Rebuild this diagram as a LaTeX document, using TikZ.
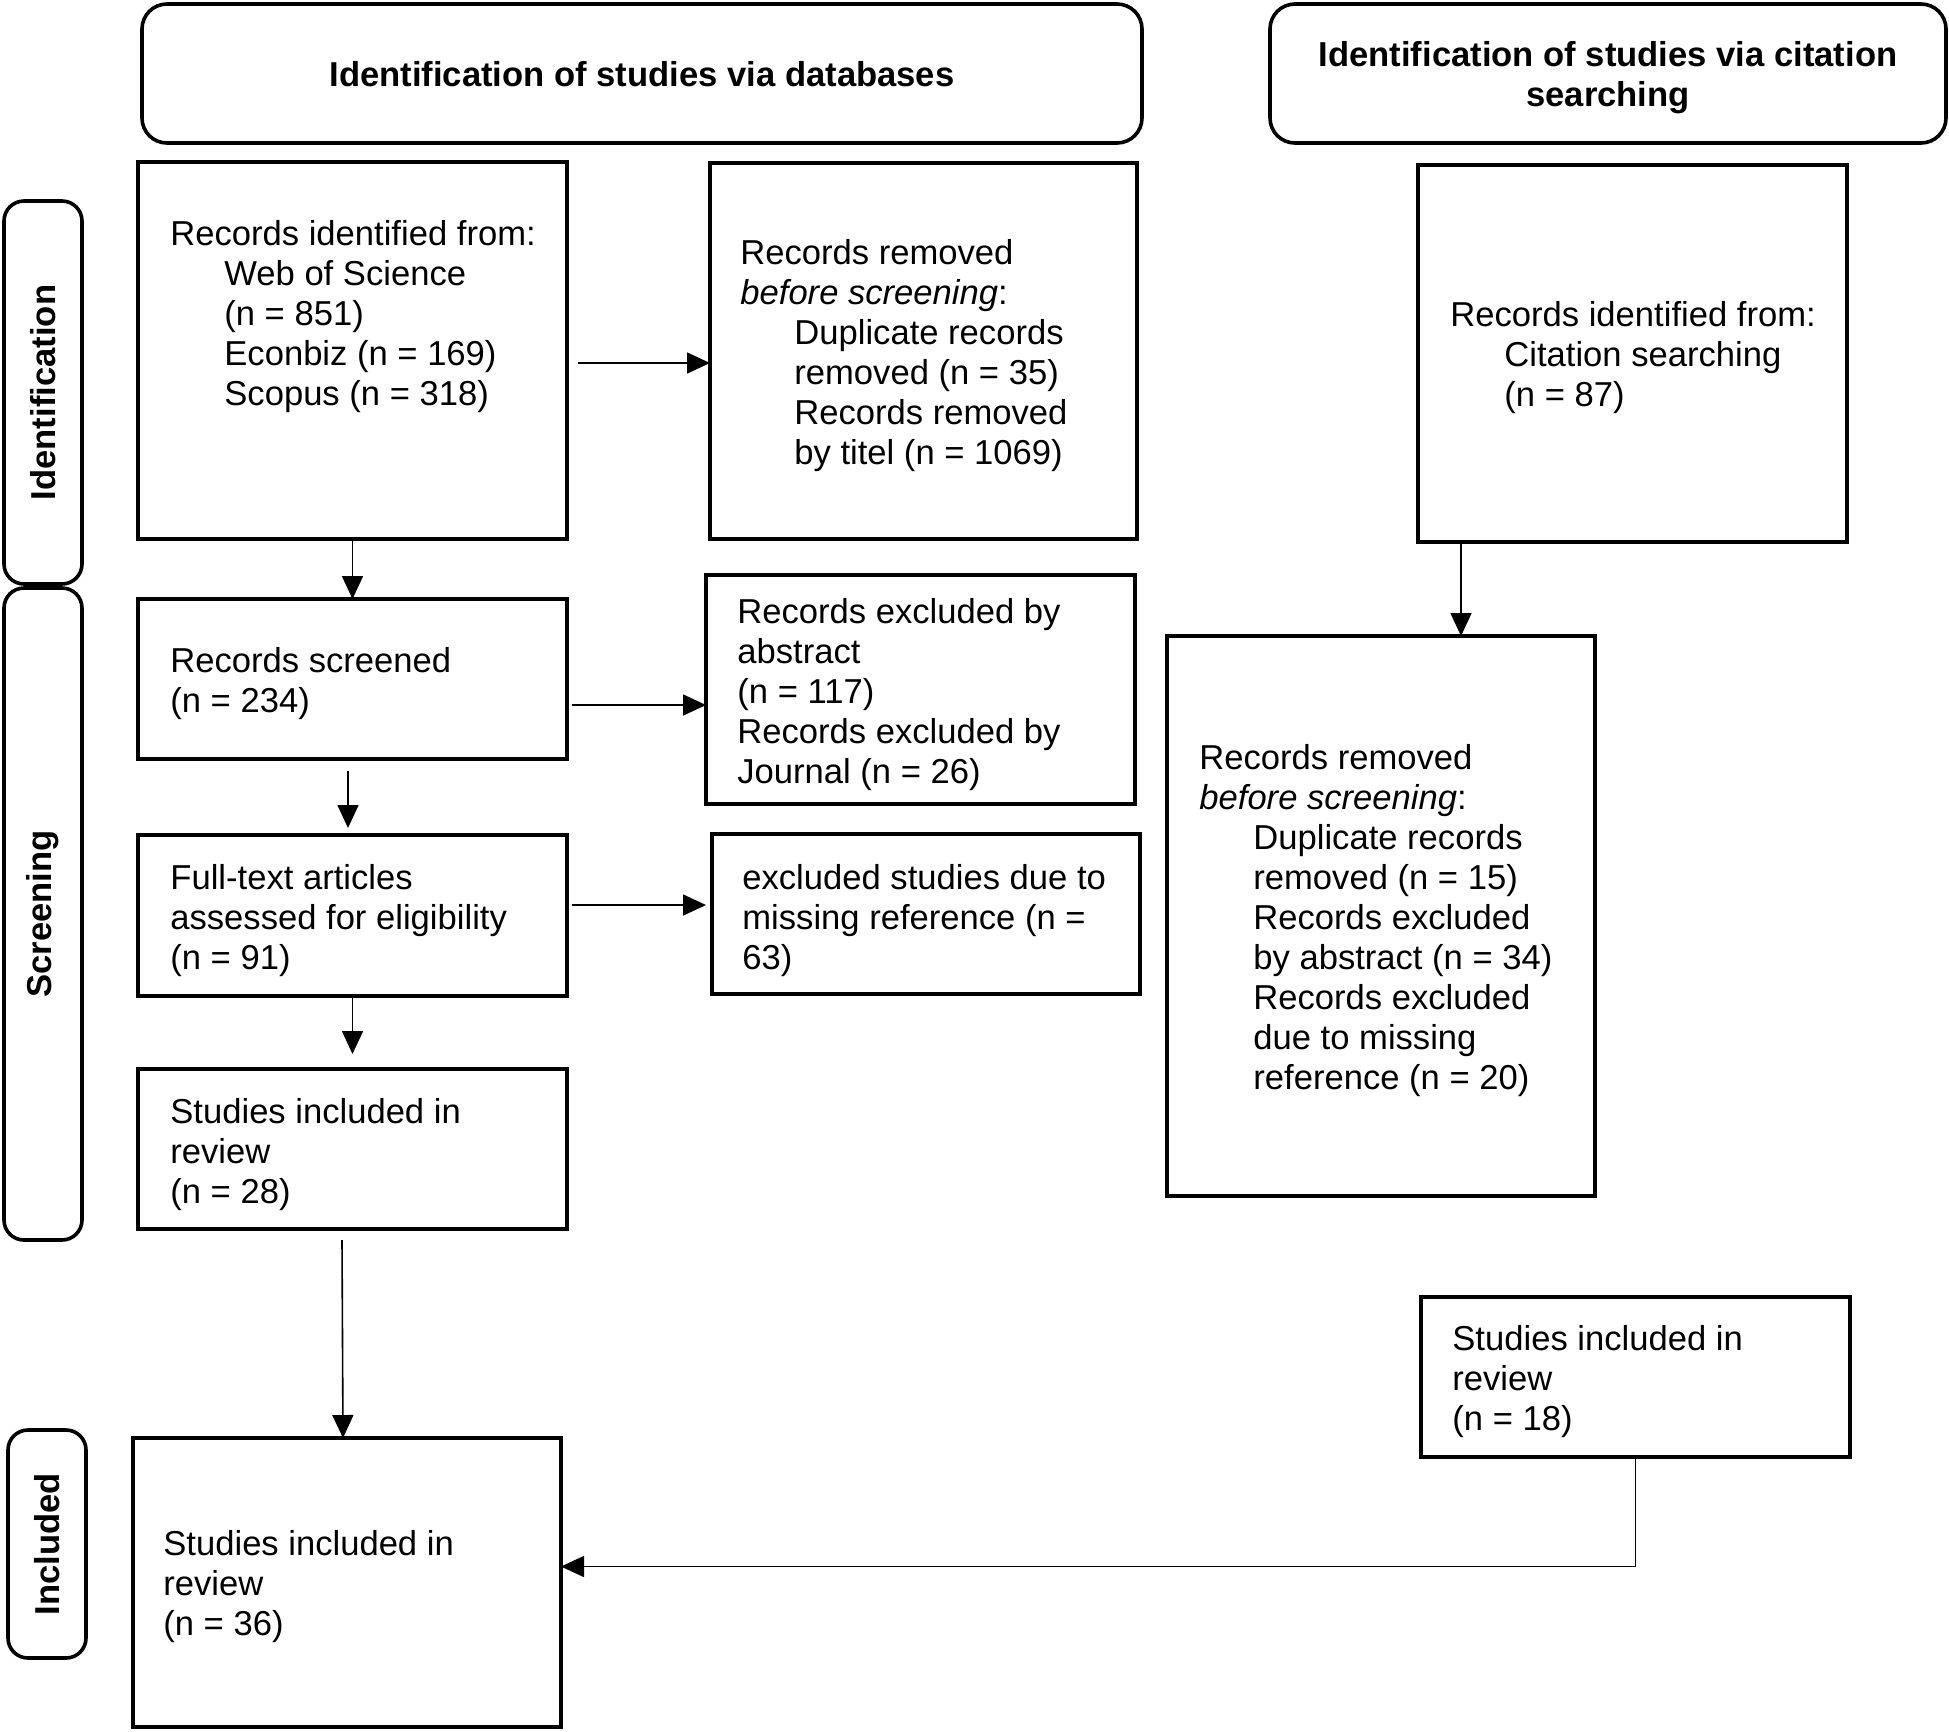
\documentclass[tikz,border=0pt]{standalone}
\usepackage{fontspec}
\setmainfont{Liberation Sans}
\usetikzlibrary{fit,arrows.meta,calc}
\newcommand\myind{\hspace*{27pt}}
\begin{document}
\begin{tikzpicture}[x=0.5pt,y=-0.5pt,
  box/.style={draw, line width=1.8pt, inner sep=0pt, outer sep=0pt},
  hdr/.style={box, rounded corners=12.5pt},
  side/.style={box, rounded corners=10pt},
  txt/.style={anchor=north west, inner sep=0pt, align=left, font=\fontsize{17.3pt}{20pt}\selectfont},
  btxt/.style={inner sep=0pt, align=center, font=\fontsize{17.3pt}{20pt}\selectfont\bfseries},
  arr/.style={-{Triangle[length=11.5pt,width=10.5pt]}, line width=0.8pt},
]
\useasboundingbox (0,0) rectangle (1949,1731);

% headers
\node[hdr, fit={(142,4)(1142,143)}] (h1) {};
\node[btxt] (h1t) at ($(h1.center)+(0,1)$) {Identification of studies via databases};
\node[hdr, fit={(1270,4)(1946,143)}] (h2) {};
\node[btxt] (h2t) at ($(h2.center)+(0,4)$) {Identification of studies via citation\\searching};

% side labels
\node[side, fit={(4,201)(82,584)}] (s1) {};
\node[btxt, rotate=90] (s1t) at (s1.center) {Identification};
\node[side, fit={(4,588)(82,1240)}] (s2) {};
\node[btxt, rotate=90] (s2t) at (s2.center) {Screening};
\node[side, fit={(8,1430)(86,1658)}] (s3) {};
\node[btxt, rotate=90] (s3t) at (s3.center) {Included};

% boxes
\node[box, fit={(138,162)(567,539)}] (A) {};
\node[box, fit={(710,163)(1137,539)}] (B) {};
\node[box, fit={(1418,165)(1847,542)}] (C) {};
\node[box, fit={(138,599)(567,759)}] (D) {};
\node[box, fit={(706,575)(1135,804)}] (E) {};
\node[box, fit={(138,835)(567,996)}] (F) {};
\node[box, fit={(712,834)(1140,994)}] (G) {};
\node[box, fit={(138,1069)(567,1229)}] (H) {};
\node[box, fit={(1167,636)(1595,1196)}] (I) {};
\node[box, fit={(1421,1297)(1850,1457)}] (J) {};
\node[box, fit={(133,1438)(561,1727)}] (K) {};

% texts
\node[txt] (tA) at (170,217) {\strut Records identified from:\\\myind Web of Science\\\myind (n = 851)\\\myind Econbiz (n = 169)\\\myind Scopus (n = 318)};
\node[txt] (tB) at (740,236) {\strut Records removed\\\textit{before screening}:\\\myind Duplicate records\\\myind removed (n = 35)\\\myind Records removed\\\myind by titel (n = 1069)};
\node[txt] (tC) at (1450,298) {\strut Records identified from:\\\myind Citation searching\\\myind (n = 87)};
\node[txt] (tD) at (170,644) {\strut Records screened\\(n = 234)};
\node[txt] (tE) at (737,595) {\strut Records excluded by\\abstract\\(n = 117)\\Records excluded by\\Journal (n = 26)};
\node[txt] (tF) at (170,861) {\strut Full-text articles\\assessed for eligibility\\(n = 91)};
\node[txt] (tG) at (742,861) {\strut excluded studies due to\\missing reference (n =\\63)};
\node[txt] (tH) at (170,1095) {\strut Studies included in\\review\\(n = 28)};
\node[txt] (tI) at (1199,741) {\strut Records removed\\\textit{before screening}:\\\myind Duplicate records\\\myind removed (n = 15)\\\myind Records excluded\\\myind by abstract (n = 34)\\\myind Records excluded\\\myind due to missing\\\myind reference (n = 20)};
\node[txt] (tJ) at (1452,1322) {\strut Studies included in\\review\\(n = 18)};
\node[txt] (tK) at (163,1527) {\strut Studies included in\\review\\(n = 36)};

% connectors
\coordinate (a1) at ($(A.east)+(11,12.5)$);
\draw[arr] (a1) -- (a1 -| B.west);
\draw[arr] (A.south) -- (D.north);
\coordinate (d2) at ($(D.east)+(5,26)$);
\draw[arr] (d2) -- (d2 -| E.west);
\coordinate (d1) at ($(D.south)+(-4.5,12)$);
\draw[arr, shorten >=3.5pt] (d1) -- (d1 |- F.north);
\coordinate (f1) at ($(F.east)+(5,-10.5)$);
\draw[arr, shorten >=3pt] (f1) -- (f1 -| G.west);
\draw[arr, shorten >=7.5pt] (F.south) -- (H.north);
\coordinate (h1s) at ($(H.south)+(-10.5,11)$);
\coordinate (k1) at ($(K.north)+(-4,0)$);
\draw[arr] (h1s) -- (k1);
\coordinate (c1) at ($(C.south west)+(43,0)$);
\draw[arr] (c1) -- (c1 |- I.north);
\coordinate (k2) at ($(K.east)+(0,-16)$);
\draw[arr] (J.south) |- (k2);
\end{tikzpicture}
\end{document}
